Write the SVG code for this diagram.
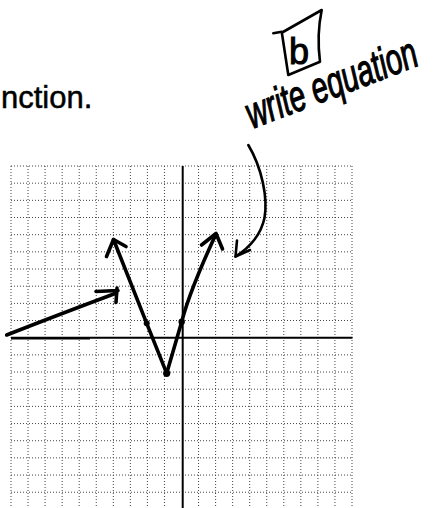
<svg xmlns="http://www.w3.org/2000/svg" width="441" height="508" viewBox="0 0 441 508">
<style>
.grid line{stroke:#444;stroke-width:1;stroke-dasharray:1 2}
.axis{stroke:#000;stroke-width:2;fill:none}
.ink{stroke:#000;stroke-width:3.6;fill:none;stroke-linecap:round;stroke-linejoin:round}
.pen{stroke:#000;stroke-width:2.6;fill:none;stroke-linecap:round;stroke-linejoin:round}
.print{font-family:"Comic Sans MS","Liberation Sans",sans-serif;font-size:31px;fill:#000;stroke:#000;stroke-width:0.5}
.hand{font-family:"Liberation Sans",sans-serif;font-style:italic;font-size:44px;fill:#000;stroke:#000;stroke-width:1.2}
.letter{font-family:"Liberation Sans",sans-serif;font-size:36px;fill:#000;stroke:#000;stroke-width:1}
</style>
<rect width="441" height="508" fill="#fff"/>
<g id="title"><text class="print" x="1" y="108">nction.</text></g>
<g id="grid" class="grid">
<line x1="11" y1="166" x2="11" y2="508"/><line x1="28.05" y1="166" x2="28.05" y2="508"/><line x1="45.1" y1="166" x2="45.1" y2="508"/><line x1="62.15" y1="166" x2="62.15" y2="508"/><line x1="79.2" y1="166" x2="79.2" y2="508"/><line x1="96.25" y1="166" x2="96.25" y2="508"/><line x1="113.3" y1="166" x2="113.3" y2="508"/><line x1="130.35" y1="166" x2="130.35" y2="508"/><line x1="147.4" y1="166" x2="147.4" y2="508"/><line x1="164.45" y1="166" x2="164.45" y2="508"/><line x1="198.55" y1="166" x2="198.55" y2="508"/><line x1="215.6" y1="166" x2="215.6" y2="508"/><line x1="232.65" y1="166" x2="232.65" y2="508"/><line x1="249.7" y1="166" x2="249.7" y2="508"/><line x1="266.75" y1="166" x2="266.75" y2="508"/><line x1="283.8" y1="166" x2="283.8" y2="508"/><line x1="300.85" y1="166" x2="300.85" y2="508"/><line x1="317.9" y1="166" x2="317.9" y2="508"/><line x1="334.95" y1="166" x2="334.95" y2="508"/><line x1="352" y1="166" x2="352" y2="508"/>
<line x1="11" y1="166" x2="352" y2="166"/><line x1="11" y1="183.17" x2="352" y2="183.17"/><line x1="11" y1="200.34" x2="352" y2="200.34"/><line x1="11" y1="217.51" x2="352" y2="217.51"/><line x1="11" y1="234.68" x2="352" y2="234.68"/><line x1="11" y1="251.85" x2="352" y2="251.85"/><line x1="11" y1="269.02" x2="352" y2="269.02"/><line x1="11" y1="286.19" x2="352" y2="286.19"/><line x1="11" y1="303.36" x2="352" y2="303.36"/><line x1="11" y1="320.53" x2="352" y2="320.53"/><line x1="11" y1="354.87" x2="352" y2="354.87"/><line x1="11" y1="372.04" x2="352" y2="372.04"/><line x1="11" y1="389.21" x2="352" y2="389.21"/><line x1="11" y1="406.38" x2="352" y2="406.38"/><line x1="11" y1="423.55" x2="352" y2="423.55"/><line x1="11" y1="440.72" x2="352" y2="440.72"/><line x1="11" y1="457.89" x2="352" y2="457.89"/><line x1="11" y1="475.06" x2="352" y2="475.06"/><line x1="11" y1="492.23" x2="352" y2="492.23"/>
</g>
<g id="axes">
<line class="axis" x1="182.7" y1="166" x2="182.7" y2="508"/>
<line class="axis" x1="11" y1="337.7" x2="352.5" y2="337.7"/>
<line class="axis" x1="11" y1="338.5" x2="90" y2="338.5" stroke-width="2.6"/>
</g>
<g id="graph">
<path class="ink" d="M166.7,373.3 L146.7,323.3 L113.5,239.5"/>
<path class="ink" d="M106.5,256.5 L113.5,239.5 L126,246.5"/>
<path class="ink" d="M166.7,373.3 L181.7,321.7 Q190,290 216,234"/>
<path class="ink" d="M201.5,245 L216,233.5 L222.5,249"/>
<circle cx="166.7" cy="373.3" r="3.6"/>
<circle cx="146.7" cy="323.3" r="3"/>
<circle cx="181.7" cy="321.7" r="3.2"/>
</g>
<g id="connectors">
<path class="ink" d="M6.7,335 Q55,316 116.5,293"/>
<path class="ink" d="M96,291.5 L118,290.5 M117,288 L116,302.5"/>
<path class="pen" d="M248.3,145 C262,168 268,198 264.5,218 C260.5,236 249,248 235.5,256.5"/>
<path class="pen" d="M237,240.5 L235.5,256.5 L250,250"/>
</g>
<g id="label-b">
<path class="pen" d="M273.3,33.3 L281.7,31.7 L288.3,75 L320,61.7 Q316.5,35 321.7,10 L283,32"/>
<text class="letter" x="289" y="64">b</text>
</g>
<g id="note">
<text class="hand" x="0" y="0" transform="translate(252 129) rotate(-20.8) scale(0.66 1)">write equation</text>
</g>
</svg>
